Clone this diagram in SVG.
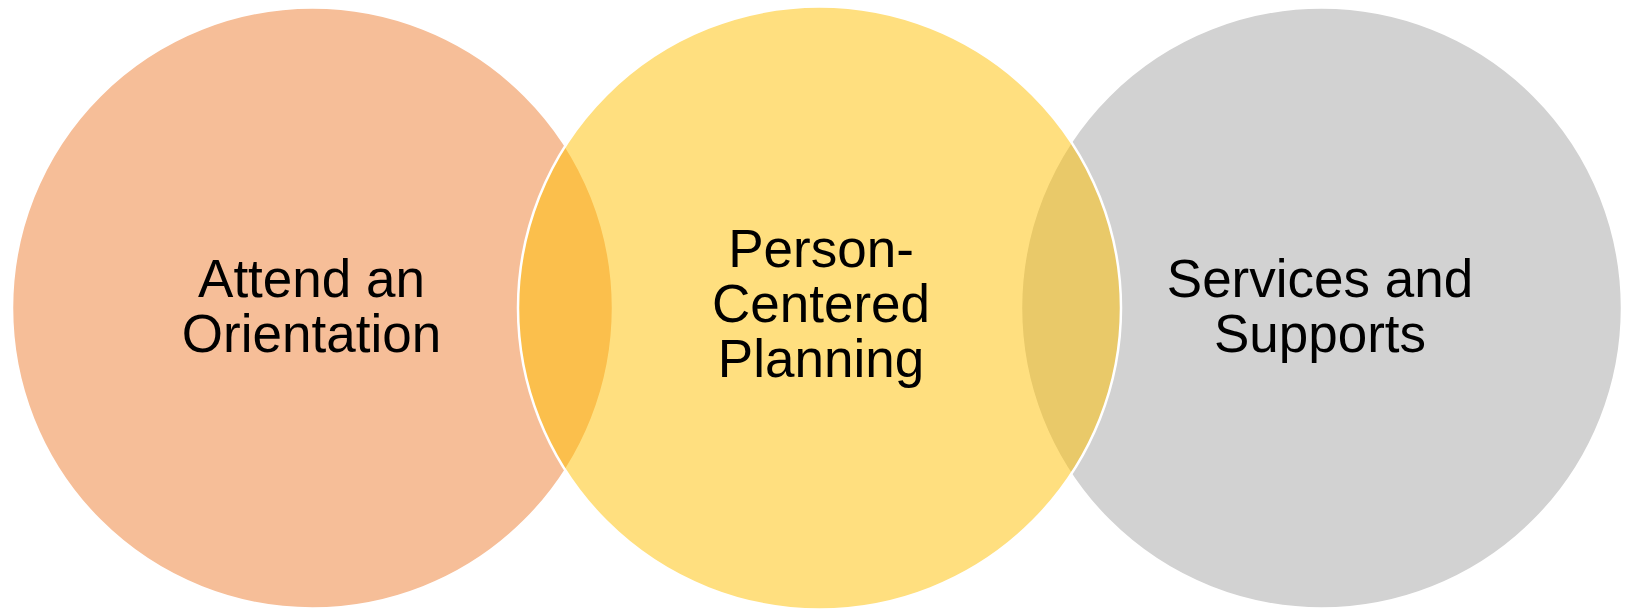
<svg xmlns="http://www.w3.org/2000/svg" width="1627" height="610" viewBox="0 0 1627 610">
<style>
.c{stroke:#FFFFFF;stroke-width:2.5;fill-opacity:0.5}
.t{font-family:"Liberation Sans",Arial,sans-serif;font-size:53px;fill:#000000;text-anchor:middle}
</style>
<rect width="1627" height="610" fill="#FFFFFF"/>
<g id="connectors"></g>
<g id="node-orientation">
<circle class="c" cx="312.5" cy="308" r="300.5" fill="#ED7D31"/>
<text class="t" x="311.5" y="297">Attend an</text>
<text class="t" x="311.5" y="352">Orientation</text>
</g>
<g id="node-services">
<circle class="c" cx="1321.5" cy="308" r="300.5" fill="#A5A5A5"/>
<text class="t" x="1320" y="297">Services and</text>
<text class="t" x="1320" y="352">Supports</text>
</g>
<g id="node-planning">
<circle class="c" cx="819.5" cy="308" r="301.5" fill="#FFC000"/>
<text class="t" x="821" y="267">Person-</text>
<text class="t" x="821" y="322">Centered</text>
<text class="t" x="821" y="377">Planning</text>
</g>
</svg>
